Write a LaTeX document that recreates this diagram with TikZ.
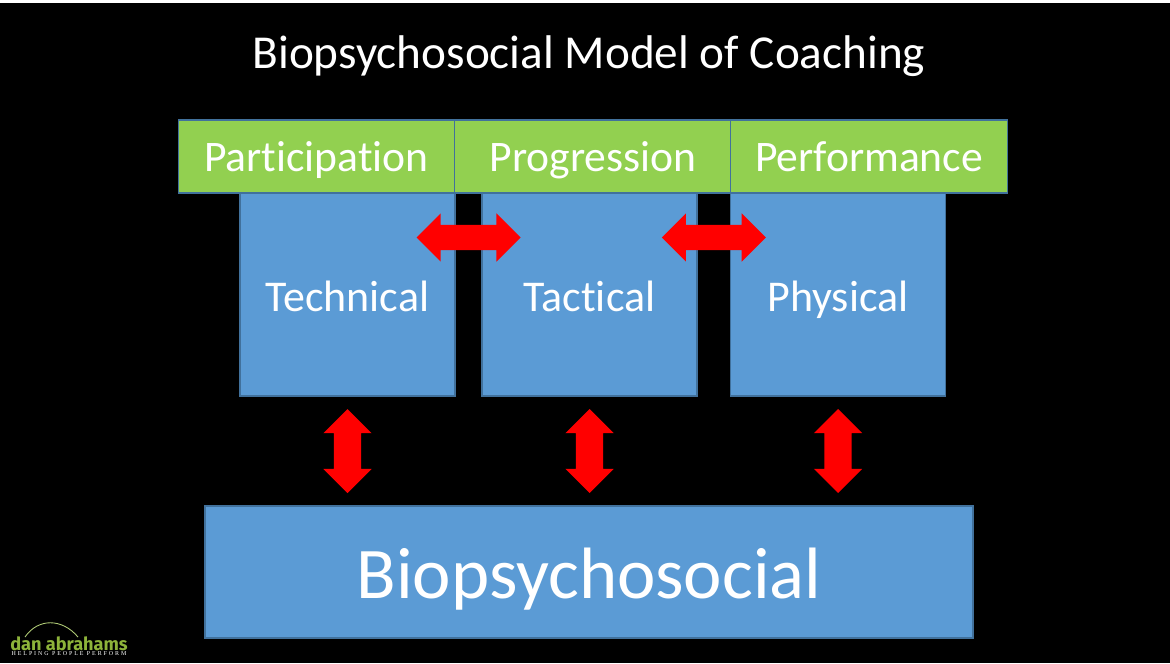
\documentclass[tikz,border=0pt]{standalone}
\usepackage{fontspec}
\setmainfont[Ligatures=CommonOff]{Carlito}
\newfontfamily\logofont{Fira Sans}
\newfontfamily\taglinefont[LetterSpace=32]{Liberation Serif}
\usetikzlibrary{calc,shapes.arrows}
\definecolor{boxblue}{HTML}{5B9BD5}
\definecolor{boxgreen}{HTML}{92D050}
\definecolor{edgeblue}{HTML}{41719C}
\definecolor{logogreen}{HTML}{8DB33A}
\tikzset{
  labeltext/.style={text=white,inner sep=0pt,text height=#1*0.9pt,text depth=#1*0.19pt,font=\fontsize{#1}{15}\selectfont},
  greenbox/.style={draw=edgeblue,line width=0.3pt,fill=boxgreen,labeltext=12.4,minimum width=2.765cm,minimum height=0.73cm},
  bluebox/.style={draw=edgeblue,line width=0.3pt,fill=boxblue,labeltext=12.5,text height=11.8pt,minimum width=2.15cm,minimum height=2.03cm},
  redarrow/.style={double arrow,fill=red,inner sep=0pt,text width=0pt,text height=0.24cm,text depth=0pt,minimum height=1.04cm,double arrow head extend=0.115cm,double arrow tip angle=90},
  redarrowv/.style={redarrow,rotate=90,text height=0.26cm,double arrow head extend=0.105cm,minimum height=0.84cm}
}
\begin{document}
\begin{tikzpicture}
\useasboundingbox (0,0) rectangle (11.70,6.63);
\fill[black] (0,0) rectangle (11.70,6.63);
\fill[white] (0,6.60) rectangle (11.70,6.63);
\node[labeltext=13.44] (title) at (5.89,6.11) {Biopsychosocial Model of Coaching};
\node[bluebox] (technical) at (3.475,3.685) {Technical};
\node[bluebox] (tactical) at (5.895,3.685) {Tactical};
\node[bluebox] (physical) at (8.38,3.685) {Physical};
\node[greenbox] (participation) at (3.165,5.065) {Participation};
\node[greenbox] (progression) at (5.93,5.065) {Progression};
\node[greenbox] (performance) at (8.69,5.065) {Performance};
\node[draw=edgeblue,line width=0.3pt,fill=boxblue,labeltext=20.7,text height=19.2pt,minimum width=7.68cm,minimum height=1.32cm] (biopsychosocial) at (5.89,0.91) {Biopsychosocial};
\node[redarrow,yshift=0.57cm] (techtac) at ($(technical.east)!0.5!(tactical.west)$) {};
\node[redarrow,yshift=0.57cm] (tacphys) at ($(tactical.east)!0.5!(physical.west)$) {};
\node[redarrowv] (techbio) at ($(technical.south)!0.5!(technical.south |- biopsychosocial.north)$) {};
\node[redarrowv] (tacbio) at ($(tactical.south)!0.5!(tactical.south |- biopsychosocial.north)$) {};
\node[redarrowv] (physbio) at ($(physical.south)!0.5!(physical.south |- biopsychosocial.north)$) {};
% logo
\draw[logogreen!70!white,line width=0.25pt] (0.25,0.26) .. controls (0.38,0.45) and (0.62,0.45) .. (0.78,0.26);
\node[text=logogreen,inner sep=0pt,font=\logofont\bfseries\fontsize{5.16}{6}\selectfont] (logo) at (0.69,0.19) {dan abrahams};
\node[text=white,inner sep=0pt,font=\taglinefont\fontsize{1.7}{2}\selectfont] (tagline) at (0.69,0.09) {HELPING PEOPLE PERFORM};
\end{tikzpicture}
\end{document}
